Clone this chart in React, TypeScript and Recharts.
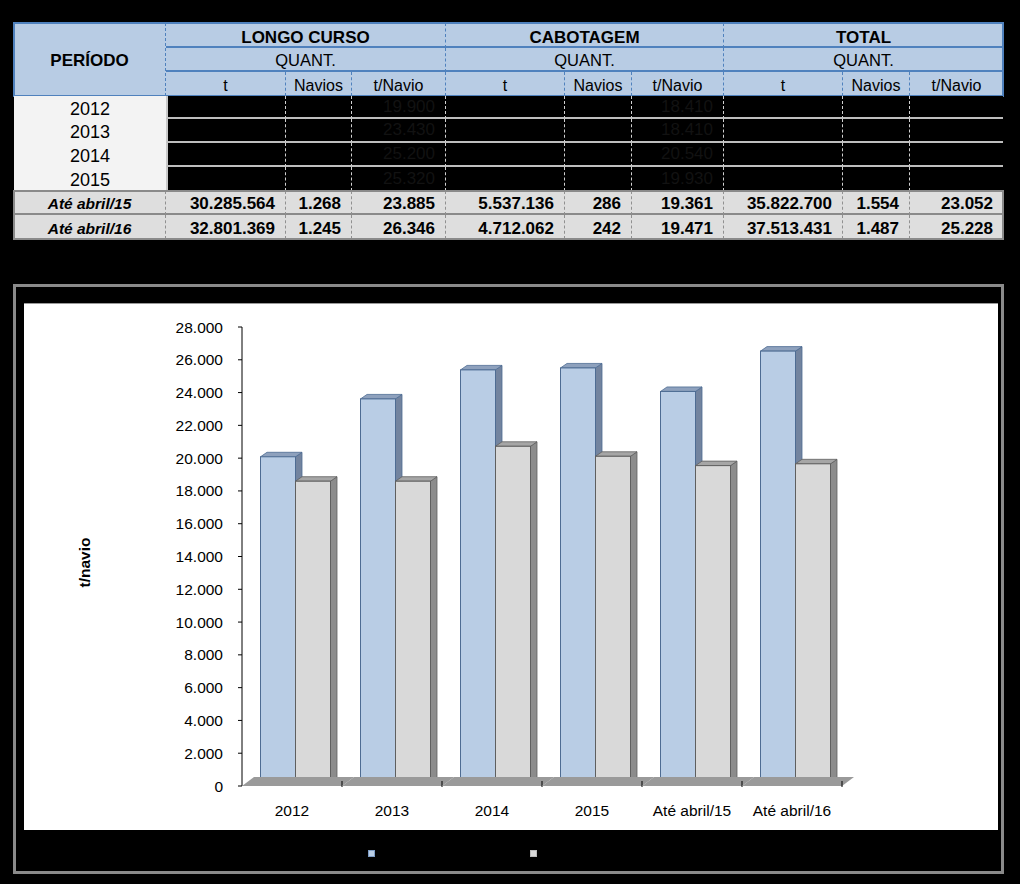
import React from "react";
import { Bar, BarChart, XAxis, YAxis } from "recharts";

const categories = ["2012", "2013", "2014", "2015", "Até abril/15", "Até abril/16"];
const longoCurso = [19900, 23430, 25200, 25320, 23885, 26346];
const cabotagem = [18410, 18410, 20540, 19930, 19361, 19471];
const yTicks = [0, 2000, 4000, 6000, 8000, 10000, 12000, 14000, 16000, 18000, 20000, 22000, 24000, 26000, 28000];

const groupTitles = ["LONGO CURSO", "CABOTAGEM", "TOTAL"];
const subHeaders = ["t", "Navios", "t/Navio"];
const yearRows = ["2012", "2013", "2014", "2015"];
const summaryLabels = ["Até abril/15", "Até abril/16"];
const summaryAbr15 = ["30.285.564", "1.268", "23.885", "5.537.136", "286", "19.361", "35.822.700", "1.554", "23.052"];
const summaryAbr16 = ["32.801.369", "1.245", "26.346", "4.712.062", "242", "19.471", "37.513.431", "1.487", "25.228"];

const series = [
  { key: "longo", name: "LONGO CURSO", front: "#b9cde5", top: "#8ea1bd", side: "#73849f", edge: "#4e6c93" },
  { key: "cabotagem", name: "CABOTAGEM", front: "#d9d9d9", top: "#a6a6a6", side: "#8c8c8c", edge: "#5f5f5f" },
];

const data = categories.map((name, i) => ({ name, longo: longoCurso[i], cabotagem: cabotagem[i] }));

const FONT = "Arial, 'Liberation Sans', sans-serif";
const fmt = (v: number) => Math.round(v).toString().replace(/\B(?=(\d{3})+(?!\d))/g, ".");

// table grid
const colX = [14, 166, 286, 352, 446, 565, 632, 724, 843, 910, 1003];
const headRowY = [23, 48, 72, 96];
const yearRowY = [96, 119, 143, 167, 191];
const sumRowY = [191, 215, 239];

function Cell({ x0, x1, y0, y1, style, children }: any) {
  return (
    <div
      style={{
        position: "absolute",
        left: x0,
        top: y0,
        width: x1 - x0,
        height: y1 - y0,
        boxSizing: "border-box",
        display: "flex",
        alignItems: "center",
        justifyContent: "center",
        whiteSpace: "nowrap",
        ...style,
      }}
    >
      {children}
    </div>
  );
}

function Table() {
  const cells: React.ReactNode[] = [];
  const headBg = "#b8cce4";
  const blue = "#4f81bd";
  cells.push(
    <Cell key="per" x0={colX[0]} x1={colX[1]} y0={headRowY[0]} y1={headRowY[3]}
      style={{ background: headBg, fontWeight: 700, fontSize: 17, paddingTop: 3, borderRight: `1px dashed ${blue}` }}>
      PERÍODO
    </Cell>
  );
  groupTitles.forEach((g, gi) => {
    const x0 = colX[1 + gi * 3];
    const x1 = colX[4 + gi * 3];
    const sep = gi < 2 ? `1px dashed ${blue}` : "none";
    cells.push(
      <Cell key={"g" + gi} x0={x0} x1={x1} y0={headRowY[0]} y1={headRowY[1]}
        style={{ background: headBg, fontWeight: 700, fontSize: 17, paddingTop: 6, borderRight: sep, borderBottom: `2px solid ${blue}` }}>
        {g}
      </Cell>
    );
    cells.push(
      <Cell key={"q" + gi} x0={x0} x1={x1} y0={headRowY[1]} y1={headRowY[2]}
        style={{ background: headBg, fontSize: 16.5, paddingTop: 3, borderRight: sep, borderBottom: `2px solid ${blue}` }}>
        QUANT.
      </Cell>
    );
    subHeaders.forEach((s, si) => {
      const c = 1 + gi * 3 + si;
      cells.push(
        <Cell key={"s" + gi + si} x0={colX[c]} x1={colX[c + 1]} y0={headRowY[2]} y1={headRowY[3]}
          style={{ background: headBg, fontSize: 16, paddingTop: 3, borderRight: si < 2 || gi < 2 ? `1px dashed ${blue}` : "none" }}>
          {s}
        </Cell>
      );
    });
  });
  cells.push(
    <div key="hborder" style={{ position: "absolute", left: colX[0] - 1, top: headRowY[0] - 1, width: colX[10] - colX[0] + 2, height: headRowY[3] - headRowY[0] + 2, border: `2px solid ${blue}`, boxSizing: "border-box" }} />
  );

  yearRows.forEach((yr, ri) => {
    const y0 = yearRowY[ri];
    const y1 = yearRowY[ri + 1];
    cells.push(
      <Cell key={"y" + ri} x0={colX[0]} x1={colX[1]} y0={y0} y1={y1} style={{ background: "#f3f3f3", fontSize: 18, paddingTop: 3 }}>
        {yr}
      </Cell>
    );
    for (let c = 1; c < 10; c++) {
      let txt = "";
      if (c === 3) txt = fmt(longoCurso[ri]);
      if (c === 6) txt = fmt(cabotagem[ri]);
      cells.push(
        <Cell key={"d" + ri + c} x0={colX[c]} x1={colX[c + 1]} y0={y0} y1={y1}
          style={{
            background: "#000",
            color: "#121212",
            fontSize: 17,
            justifyContent: "flex-end",
            paddingRight: 10,
            borderLeft: c === 1 ? "2px solid #c8c8c8" : "none",
            borderRight: c < 9 ? "1px dashed #d0d0d0" : "none",
            borderBottom: ri < 3 ? "2px solid #bdbdbd" : "none",
          }}>
          {txt}
        </Cell>
      );
    }
  });

  summaryLabels.forEach((lab, ri) => {
    const y0 = sumRowY[ri];
    const y1 = sumRowY[ri + 1];
    const vals = ri === 0 ? summaryAbr15 : summaryAbr16;
    cells.push(
      <Cell key={"sl" + ri} x0={colX[0]} x1={colX[1]} y0={y0} y1={y1}
        style={{ background: "#dedede", fontWeight: 700, fontStyle: "italic", fontSize: 15.5, paddingTop: 3, borderRight: "1px dashed #909090", borderBottom: ri === 0 ? "2px solid #8a8a8a" : "none" }}>
        {lab}
      </Cell>
    );
    vals.forEach((v, vi) => {
      const c = vi + 1;
      cells.push(
        <Cell key={"sv" + ri + c} x0={colX[c]} x1={colX[c + 1]} y0={y0} y1={y1}
          style={{
            background: "#dedede",
            fontWeight: 700,
            fontSize: 17,
            justifyContent: "flex-end",
            paddingRight: 10,
            paddingTop: 3,
            borderRight: c < 9 ? "1px dashed #909090" : "none",
            borderBottom: ri === 0 ? "2px solid #8a8a8a" : "none",
          }}>
          {v}
        </Cell>
      );
    });
  });
  cells.push(
    <div key="sborder" style={{ position: "absolute", left: colX[0] - 1, top: sumRowY[0] - 1, width: colX[10] - colX[0] + 2, height: sumRowY[2] - sumRowY[0] + 2, border: "2px solid #8a8a8a", boxSizing: "border-box" }} />
  );
  return <>{cells}</>;
}

const SHIFT_X = 3.5;
const SHIFT_Y = 3;
const DEPTH_X = 6.5;
const DEPTH_Y = 4.5;

function Box3D(props: any) {
  const { x, y, width, height, front, top, side, edge } = props;
  if (!width || height == null) return null;
  const l = x + SHIFT_X;
  const r = l + width;
  const t = y - SHIFT_Y;
  const b = y + height - SHIFT_Y;
  return (
    <g>
      <polygon points={`${r},${t} ${r + DEPTH_X},${t - DEPTH_Y} ${r + DEPTH_X},${b - DEPTH_Y} ${r},${b}`} fill={side} stroke={edge} strokeWidth={0.8} />
      <polygon points={`${l},${t} ${l + DEPTH_X},${t - DEPTH_Y} ${r + DEPTH_X},${t - DEPTH_Y} ${r},${t}`} fill={top} stroke={edge} strokeWidth={0.8} />
      <rect x={l} y={t} width={width} height={height} fill={front} stroke={edge} strokeWidth={1} />
    </g>
  );
}

const FLOOR_DX = 12;
const FLOOR_DY = 9;

function FloorTick(props: any) {
  const { x, y, payload } = props;
  const half = payload && payload.offset ? payload.offset : 50;
  const l = x - half;
  const r = x + half;
  return (
    <g>
      <polygon points={`${l},${y} ${r},${y} ${r + FLOOR_DX},${y - FLOOR_DY} ${l + FLOOR_DX},${y - FLOOR_DY}`} fill="#9a9a9a" />
      <line x1={r} x2={r} y1={y - 5} y2={y + 1} stroke="#000" strokeWidth={1} />
      <text x={x} y={y + 29.7} textAnchor="middle" fontSize={15.5} fontFamily={FONT} fill="#000">
        {payload.value}
      </text>
    </g>
  );
}

function YTitle(props: any) {
  const vb = props.viewBox || { x: 0, y: 24, width: 218, height: 459 };
  const cx = vb.x + 66;
  const cy = vb.y + vb.height / 2 + 6;
  return (
    <text x={cx} y={cy} transform={`rotate(-90 ${cx} ${cy})`} textAnchor="middle" fontSize={15.5} fontWeight={700} fontFamily={FONT} fill="#000">
      t/navio
    </text>
  );
}

export default function App() {
  return (
    <div style={{ position: "absolute", left: 0, top: 0, width: 1024, height: 889, background: "#fff", fontFamily: FONT, color: "#000", overflow: "hidden" }}>
      <div style={{ position: "absolute", left: 0, top: 0, width: 1020, height: 884, background: "#000" }} />
      <Table />
      <div style={{ position: "absolute", left: 13, top: 284, width: 991, height: 590, background: "#000", border: "3px solid #8a8a8a", boxSizing: "border-box" }} />
      <div style={{ position: "absolute", left: 24, top: 303, width: 974, height: 527, background: "#fff", borderTop: "1px solid #9a9a9a", boxSizing: "border-box" }} />
      <div style={{ position: "absolute", left: 24, top: 303 }}>
        <BarChart width={974} height={527} data={data} margin={{ top: 24, right: 156, left: 0, bottom: 0 }} barGap={0} barSize={35}>
          <XAxis dataKey="name" interval={0} axisLine={false} tickLine={false} tickSize={0} tickMargin={0} height={44} tick={<FloorTick />} />
          <YAxis
            width={218}
            domain={[0, 28000]}
            ticks={yTicks}
            tickFormatter={fmt}
            tickSize={4}
            tickMargin={15}
            axisLine={{ stroke: "#000" }}
            tickLine={{ stroke: "#000" }}
            tick={{ fill: "#000", fontSize: 15.5, fontFamily: FONT }}
            label={<YTitle />}
          />
          {series.map((s) => (
            <Bar
              key={s.key}
              dataKey={s.key}
              name={s.name}
              isAnimationActive={false}
              shape={(p: any) => <Box3D {...p} front={s.front} top={s.top} side={s.side} edge={s.edge} />}
            />
          ))}
        </BarChart>
      </div>
      {series.map((s, i) => (
        <div key={s.key} style={{ position: "absolute", left: 368 + i * 162, top: 846, display: "flex", alignItems: "center", gap: 4, fontSize: 12, color: "#000" }}>
          <span style={{ display: "inline-block", width: 5, height: 5, background: s.front, border: `1px solid ${i === 0 ? "#7d9cc4" : "#bbbbbb"}` }} />
          <span>{s.name}</span>
        </div>
      ))}
    </div>
  );
}
